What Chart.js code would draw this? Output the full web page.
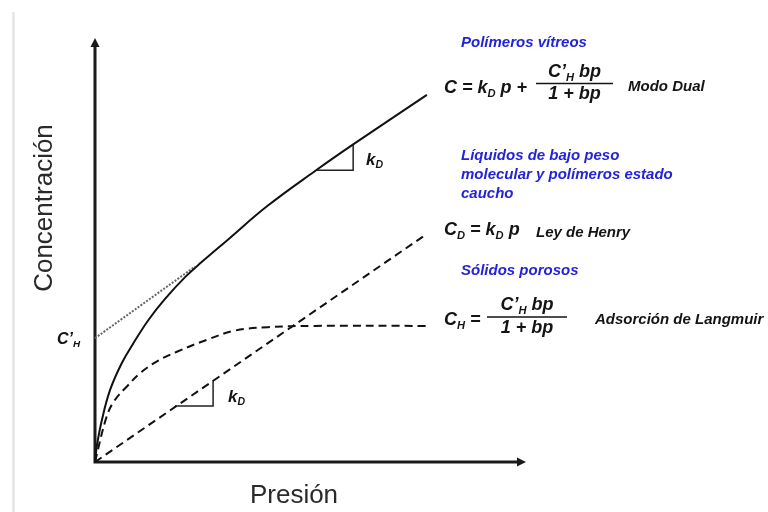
<!DOCTYPE html>
<html>
<head>
<meta charset="utf-8">
<script src="https://cdn.jsdelivr.net/npm/chart.js@4.4.1/dist/chart.umd.min.js"></script>
<style>
    html, body { margin: 0; padding: 0; background: #fff; }
    #wrap { position: relative; width: 768px; height: 512px; overflow: hidden; }
    #edge { position: absolute; left: 12px; top: 12px; width: 3px; height: 500px;
            background: linear-gradient(to right, #f0f0f0, #e2e2e2, #f4f4f4); }
    canvas { position: absolute; left: 0; top: 0; }
</style>
</head>
<body>
<div id="wrap">
    <div id="edge"></div>
    <canvas id="chart" width="768" height="512"></canvas>
</div>
<script>
// ============================================
// DATA (pressure / concentration, arbitrary units 0-100 along each axis)
// ============================================
const dualP = [0, 0.4, 1.6, 3.5, 6.2, 8.9, 12.4, 16.2, 20.9, 24.8, 30.9, 39.9, 51.3, 59.9, 77.0];
const dualC = [0, 3.6, 9.9, 17.0, 23.3, 28.0, 33.5, 38.4, 43.6, 47.2, 52.5, 60.3, 68.8, 74.9, 86.6];

const henryP = [0, 77.0];
const henryC = [0, 53.8];

const langmuirP = [0, 2.7, 4.6, 7.4, 10.4, 14.3, 19.0, 25.9, 32.5, 40.1, 51.0, 77.0];
const langmuirC = [0, 10.7, 14.6, 17.8, 20.9, 23.7, 26.0, 28.8, 31.0, 31.8, 32.1, 32.1];

const interceptP = [0, 23.2];
const interceptC = [29.2, 46.1];

const slopeUpperP = [51.3, 59.9, 59.9];
const slopeUpperC = [68.8, 68.8, 74.9];
const slopeLowerP = [18.6, 27.4, 27.4];
const slopeLowerC = [13.2, 13.2, 19.3];

const axisMax = 100;

function toPoints(xs, ys) {
    return xs.map((x, i) => ({ x: x, y: ys[i] }));
}

// ============================================
// TEXT HELPERS
// ============================================
const FONT = '"Liberation Sans", Arial, sans-serif';

function runsWidth(ctx, runs, size) {
    let w = 0;
    for (const [t, kind] of runs) {
        const s = kind === 'sub' ? size * 0.62 : size;
        ctx.font = `italic bold ${s}px ${FONT}`;
        w += ctx.measureText(t).width;
    }
    return w;
}

function drawRuns(ctx, x, y, runs, size) {
    let cx = x;
    for (const [t, kind] of runs) {
        const s = kind === 'sub' ? size * 0.62 : size;
        const dy = kind === 'sub' ? size * 0.2 : 0;
        ctx.font = `italic bold ${s}px ${FONT}`;
        ctx.fillText(t, cx, y + dy);
        cx += ctx.measureText(t).width;
    }
}

function drawCentered(ctx, cx, y, runs, size) {
    drawRuns(ctx, cx - runsWidth(ctx, runs, size) / 2, y, runs, size);
}

function drawFraction(ctx, x1, x2, lineY, numY, denY, num, den, size) {
    const mid = (x1 + x2) / 2;
    ctx.fillRect(x1, lineY - 0.75, x2 - x1, 1.5);
    drawCentered(ctx, mid, numY, num, size);
    drawCentered(ctx, mid, denY, den, size);
}

const blueNotes = [
    { text: 'Polímeros vítreos', x: 461, y: 47 },
    { text: 'Líquidos de bajo peso', x: 461, y: 160 },
    { text: 'molecular y polímeros estado', x: 461, y: 179 },
    { text: 'caucho', x: 461, y: 198 },
    { text: 'Sólidos porosos', x: 461, y: 275 }
];

const modelNames = [
    { text: 'Modo Dual', x: 628, y: 91 },
    { text: 'Ley de Henry', x: 536, y: 237 },
    { text: 'Adsorción de Langmuir', x: 595, y: 324 }
];

// ============================================
// PLUGIN: axes with arrows + annotations
// ============================================
const sketchPlugin = {
    id: 'sketch',
    beforeDatasetsDraw(chart) {
        const ctx = chart.ctx;
        const xs = chart.scales.x;
        const ys = chart.scales.y;
        const x0 = xs.getPixelForValue(0);
        const y0 = ys.getPixelForValue(0);
        const xEnd = xs.getPixelForValue(axisMax);
        const yEnd = ys.getPixelForValue(axisMax);

        ctx.save();
        ctx.strokeStyle = '#1a1a1a';
        ctx.fillStyle = '#1a1a1a';
        ctx.lineWidth = 3;
        ctx.lineCap = 'butt';
        ctx.beginPath();
        ctx.moveTo(x0, y0 + 1.5);
        ctx.lineTo(x0, yEnd + 6);
        ctx.moveTo(x0 - 1.5, y0);
        ctx.lineTo(xEnd - 6, y0);
        ctx.stroke();

        // arrow heads
        ctx.beginPath();
        ctx.moveTo(x0, yEnd);
        ctx.lineTo(x0 - 4.5, yEnd + 9);
        ctx.lineTo(x0 + 4.5, yEnd + 9);
        ctx.closePath();
        ctx.fill();
        ctx.beginPath();
        ctx.moveTo(xEnd, y0);
        ctx.lineTo(xEnd - 9, y0 - 4.5);
        ctx.lineTo(xEnd - 9, y0 + 4.5);
        ctx.closePath();
        ctx.fill();
        ctx.restore();
    },
    afterDraw(chart) {
        const ctx = chart.ctx;
        ctx.save();
        ctx.textBaseline = 'alphabetic';
        ctx.textAlign = 'left';

        // axis titles
        ctx.fillStyle = '#2a2a2a';
        ctx.font = `26px ${FONT}`;
        ctx.textAlign = 'center';
        ctx.fillText('Presión', 294, 503);
        ctx.save();
        ctx.translate(52, 208);
        ctx.rotate(-Math.PI / 2);
        ctx.fillText('Concentración', 0, 0);
        ctx.restore();
        ctx.textAlign = 'left';

        // blue notes
        ctx.fillStyle = '#2323d8';
        ctx.font = `italic bold 15px ${FONT}`;
        blueNotes.forEach(n => ctx.fillText(n.text, n.x, n.y));

        // model names
        ctx.fillStyle = '#141414';
        ctx.font = `italic bold 15px ${FONT}`;
        modelNames.forEach(n => ctx.fillText(n.text, n.x, n.y));

        // equations
        const sz = 18;
        drawRuns(ctx, 444, 93, [['C = k', ''], ['D', 'sub'], [' p +', '']], sz);
        drawFraction(ctx, 536, 613, 83.5, 77, 99,
            [['C’', ''], ['H', 'sub'], [' bp', '']], [['1 + bp', '']], sz);

        drawRuns(ctx, 444, 235, [['C', ''], ['D', 'sub'], [' = k', ''], ['D', 'sub'], [' p', '']], sz);

        drawRuns(ctx, 444, 325, [['C', ''], ['H', 'sub'], [' =', '']], sz);
        drawFraction(ctx, 487, 567, 317, 310, 333,
            [['C’', ''], ['H', 'sub'], [' bp', '']], [['1 + bp', '']], sz);

        // slope labels and intercept
        drawRuns(ctx, 366, 165, [['k', ''], ['D', 'sub']], 17);
        drawRuns(ctx, 228, 402, [['k', ''], ['D', 'sub']], 17);
        drawRuns(ctx, 57, 344, [['C’', ''], ['H', 'sub']], 16);

        ctx.restore();
    }
};

// ============================================
// CHART
// ============================================
function lineSet(label, xs, ys, style) {
    return Object.assign({
        label: label,
        data: toPoints(xs, ys),
        showLine: true,
        pointRadius: 0,
        borderColor: '#111',
        borderWidth: 2,
        fill: false,
        clip: false,
        tension: 0
    }, style);
}

const ctx = document.getElementById('chart').getContext('2d');
new Chart(ctx, {
    type: 'scatter',
    data: {
        datasets: [
            lineSet('Modo Dual', dualP, dualC, { tension: 0.4 }),
            lineSet('Ley de Henry', henryP, henryC, { borderDash: [8, 5] }),
            lineSet('Langmuir', langmuirP, langmuirC, { borderDash: [8, 5], tension: 0.4 }),
            lineSet('Intercepto', interceptP, interceptC, { borderDash: [2, 1.5], borderWidth: 2, borderColor: '#666' }),
            lineSet('kD sup', slopeUpperP, slopeUpperC, { borderWidth: 1.5, borderColor: '#222' }),
            lineSet('kD inf', slopeLowerP, slopeLowerC, { borderWidth: 1.5, borderColor: '#222' })
        ]
    },
    options: {
        responsive: false,
        animation: false,
        devicePixelRatio: 1,
        layout: { padding: { left: 95, right: 242, top: 38, bottom: 50 } },
        plugins: {
            legend: { display: false },
            tooltip: { enabled: false }
        },
        scales: {
            x: { type: 'linear', min: 0, max: axisMax, display: false },
            y: { type: 'linear', min: 0, max: axisMax, display: false }
        }
    },
    plugins: [sketchPlugin]
});
</script>
</body>
</html>
